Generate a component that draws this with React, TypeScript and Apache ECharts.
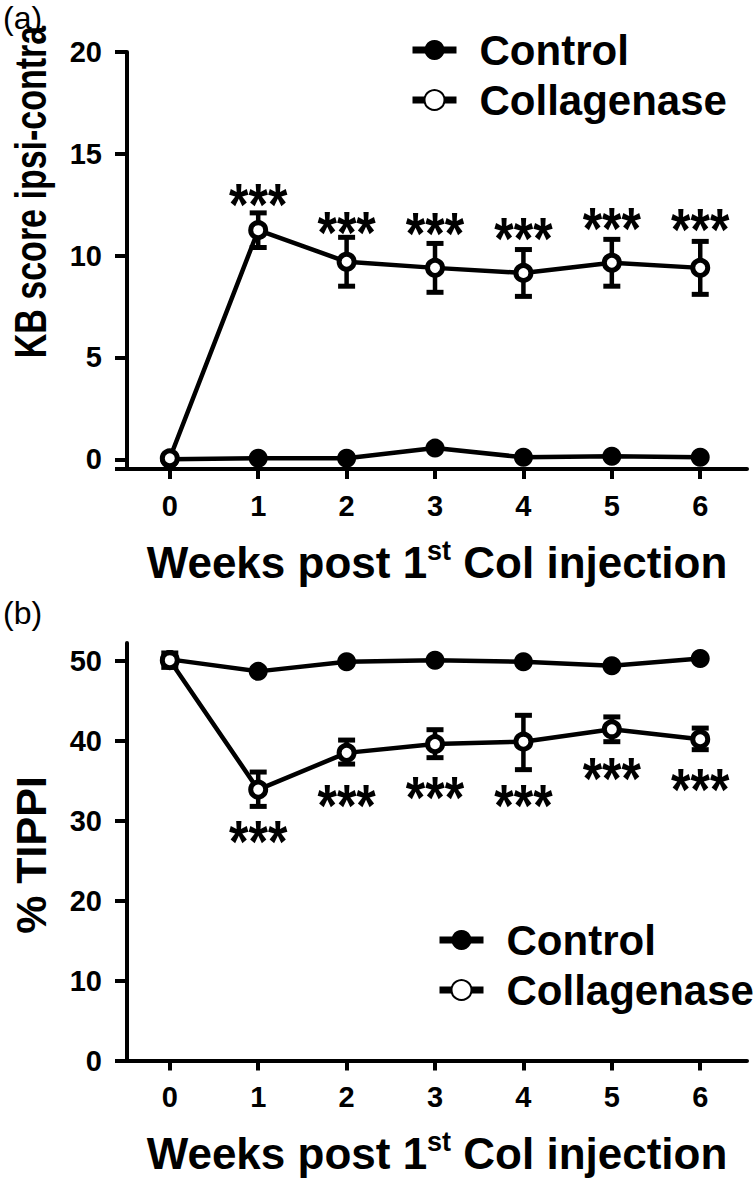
import React, { useEffect, useRef } from "react";
import * as echarts from "echarts";

// ---------- data ----------
const weeks = [0, 1, 2, 3, 4, 5, 6];
const xTicks = [0, 1, 2, 3, 4, 5, 6];
const starWeeks = [1, 2, 3, 4, 5, 6];

// (a) KB score ipsi-contra
const kbYTicks = [0, 5, 10, 15, 20];
const kbControl = [0.0, 0.05, 0.05, 0.55, 0.1, 0.15, 0.1];
const kbCollagenase = [0.05, 11.25, 9.7, 9.4, 9.15, 9.65, 9.4];
const kbCollLow = [0.05, 10.4, 8.5, 8.2, 8.0, 8.5, 8.1];
const kbCollHigh = [0.05, 12.1, 10.9, 10.6, 10.3, 10.8, 10.7];
const kbStarY = [13.15, 11.8, 11.75, 11.5, 12.0, 11.95];

// (b) % TIPPI
const tippiYTicks = [0, 10, 20, 30, 40, 50];
const tippiControl = [50.2, 48.7, 49.9, 50.1, 49.9, 49.4, 50.3];
const tippiCollagenase = [50.1, 33.9, 38.5, 39.6, 39.9, 41.45, 40.2];
const tippiCollLow = [49.2, 31.8, 37.1, 37.9, 36.4, 39.9, 38.9];
const tippiCollHigh = [51.0, 36.1, 40.1, 41.4, 43.2, 43.0, 41.6];
const tippiStarY = [29.0, 33.5, 34.6, 33.5, 36.9, 35.5];

const seriesNames = ["Control", "Collagenase"];
const yTitles = ["KB score ipsi-contra", "% TIPPI"];
const panelLabels = ["(a)", "(b)"];

// ---------- styles ----------
const FONT = "'Liberation Sans', Arial, Helvetica, sans-serif";
const BLACK = "#000";

function xAxisCfg(gridIndex: number) {
  return {
    type: "value",
    gridIndex,
    min: -0.484,
    max: 6.529,
    axisLine: { show: true, onZero: false, lineStyle: { color: BLACK, width: 4 } },
    axisTick: {
      show: true,
      customValues: xTicks,
      length: 10,
      inside: false,
      lineStyle: { color: BLACK, width: 4 },
    },
    axisLabel: {
      customValues: xTicks,
      margin: 22,
      fontSize: 29,
      fontWeight: "bold",
      fontFamily: FONT,
      color: BLACK,
    },
    splitLine: { show: false },
    name: "{a|Weeks post 1}{s|st}{a| Col injection}",
    nameLocation: "middle",
    nameGap: 68,
    nameTextStyle: {
      rich: {
        a: { fontSize: 44, fontWeight: "bold", fontFamily: FONT, color: BLACK, lineHeight: 50 },
        s: {
          fontSize: 27,
          fontWeight: "bold",
          fontFamily: FONT,
          color: BLACK,
          lineHeight: 27,
          verticalAlign: "top",
        },
      },
    },
  };
}

function yAxisCfg(gridIndex: number, min: number, max: number, ticks: number[]) {
  return {
    type: "value",
    gridIndex,
    min,
    max,
    axisLine: { show: true, onZero: false, lineStyle: { color: BLACK, width: 4 } },
    axisTick: {
      show: true,
      customValues: ticks,
      length: 12,
      inside: false,
      lineStyle: { color: BLACK, width: 4 },
    },
    axisLabel: {
      customValues: ticks,
      margin: 25,
      fontSize: 29,
      fontWeight: "bold",
      fontFamily: FONT,
      color: BLACK,
    },
    splitLine: { show: false },
  };
}

function errorSeries(idx: number, lo: number[], hi: number[]) {
  return {
    type: "custom",
    xAxisIndex: idx,
    yAxisIndex: idx,
    silent: true,
    encode: { x: 0, y: [1, 2] },
    data: weeks.map((w, i) => [w, lo[i], hi[i]]),
    renderItem: (_p: any, api: any) => {
      const x = api.value(0);
      const a = api.coord([x, api.value(1)]);
      const b = api.coord([x, api.value(2)]);
      const hw = 8.5;
      const st = { stroke: BLACK, lineWidth: 5 };
      return {
        type: "group",
        children: [
          { type: "line", shape: { x1: a[0], y1: a[1], x2: b[0], y2: b[1] }, style: { stroke: BLACK, lineWidth: 4.5 } },
          { type: "line", shape: { x1: a[0] - hw, y1: a[1], x2: a[0] + hw, y2: a[1] }, style: st },
          { type: "line", shape: { x1: b[0] - hw, y1: b[1], x2: b[0] + hw, y2: b[1] }, style: st },
        ],
      };
    },
    z: 2,
  };
}

function starSeries(idx: number, ys: number[]) {
  return {
    type: "custom",
    xAxisIndex: idx,
    yAxisIndex: idx,
    silent: true,
    data: starWeeks.map((w, i) => [w, ys[i]]),
    renderItem: (_p: any, api: any) => {
      const p = api.coord([api.value(0), api.value(1)]);
      return {
        type: "text",
        x: p[0],
        y: p[1] + 13,
        scaleY: 1.2,
        style: {
          text: "***",
          fontSize: 50,
          fontWeight: "bold",
          fontFamily: FONT,
          fill: BLACK,
          align: "center",
          verticalAlign: "middle",
        },
      };
    },
    z: 3,
  };
}

function controlSeries(idx: number, vals: number[]) {
  return {
    type: "line",
    name: seriesNames[0],
    xAxisIndex: idx,
    yAxisIndex: idx,
    data: weeks.map((w, i) => [w, vals[i]]),
    symbol: "circle",
    symbolSize: 19,
    itemStyle: { color: BLACK },
    lineStyle: { color: BLACK, width: 4.5 },
    z: 2,
  };
}

function collSeries(idx: number, vals: number[]) {
  return {
    type: "line",
    name: seriesNames[1],
    xAxisIndex: idx,
    yAxisIndex: idx,
    data: weeks.map((w, i) => [w, vals[i]]),
    symbol: "circle",
    symbolSize: 15,
    itemStyle: { color: "#fff", borderColor: BLACK, borderWidth: 5 },
    lineStyle: { color: BLACK, width: 4.5 },
    z: 2,
  };
}

function legendCfg(left: number, top: number) {
  return {
    orient: "vertical",
    left,
    top,
    padding: 0,
    data: seriesNames,
    itemWidth: 44,
    itemHeight: 25,
    itemGap: 6,
    selectedMode: false,
    lineStyle: { width: 7, color: BLACK },
    textStyle: {
      fontSize: 42,
      fontWeight: "bold",
      fontFamily: FONT,
      color: BLACK,
      lineHeight: 44,
      padding: [0, 0, 0, 18],
    },
  };
}

export default function App() {
  const ref = useRef<HTMLDivElement>(null);
  useEffect(() => {
    if (!ref.current) return;
    const chart = echarts.init(ref.current, undefined, { renderer: "svg" });
    const option: any = {
      animation: false,
      backgroundColor: "#fff",
      grid: [
        { left: 127, top: 52, width: 620, height: 417 },
        { left: 127, top: 643, width: 620, height: 417.5 },
      ],
      xAxis: [xAxisCfg(0), xAxisCfg(1)],
      yAxis: [
        yAxisCfg(0, -0.476, 20, kbYTicks),
        yAxisCfg(1, 0, 52.25, tippiYTicks),
      ],
      legend: [legendCfg(409, 28), legendCfg(436, 918)],
      series: [
        controlSeries(0, kbControl),
        errorSeries(0, kbCollLow, kbCollHigh),
        collSeries(0, kbCollagenase),
        starSeries(0, kbStarY),
        controlSeries(1, tippiControl),
        errorSeries(1, tippiCollLow, tippiCollHigh),
        collSeries(1, tippiCollagenase),
        starSeries(1, tippiStarY),
      ],
      graphic: [
        {
          type: "text",
          x: 3,
          y: 2,
          style: { text: panelLabels[0], fontSize: 32, fontFamily: FONT, fill: BLACK },
        },
        {
          type: "text",
          x: 3,
          y: 597,
          style: { text: panelLabels[1], fontSize: 32, fontFamily: FONT, fill: BLACK },
        },
        {
          type: "text",
          x: 30,
          y: 192,
          rotation: Math.PI / 2,
          scaleY: 1.3,
          style: {
            text: yTitles[0],
            fontSize: 34,
            fontWeight: "bold",
            fontFamily: FONT,
            fill: BLACK,
            align: "center",
            verticalAlign: "middle",
          },
        },
        {
          type: "text",
          x: 31,
          y: 855,
          rotation: Math.PI / 2,
          style: {
            text: yTitles[1],
            fontSize: 43,
            fontWeight: "bold",
            fontFamily: FONT,
            fill: BLACK,
            align: "center",
            verticalAlign: "middle",
          },
        },
        {
          type: "line",
          shape: { x1: 115, y1: 469, x2: 128, y2: 469 },
          style: { stroke: BLACK, lineWidth: 4 },
        },
      ],
    };
    chart.setOption(option);
    return () => chart.dispose();
  }, []);
  return (
    <div
      ref={ref}
      style={{ position: "absolute", left: 0, top: 0, width: 755, height: 1185 }}
    />
  );
}
